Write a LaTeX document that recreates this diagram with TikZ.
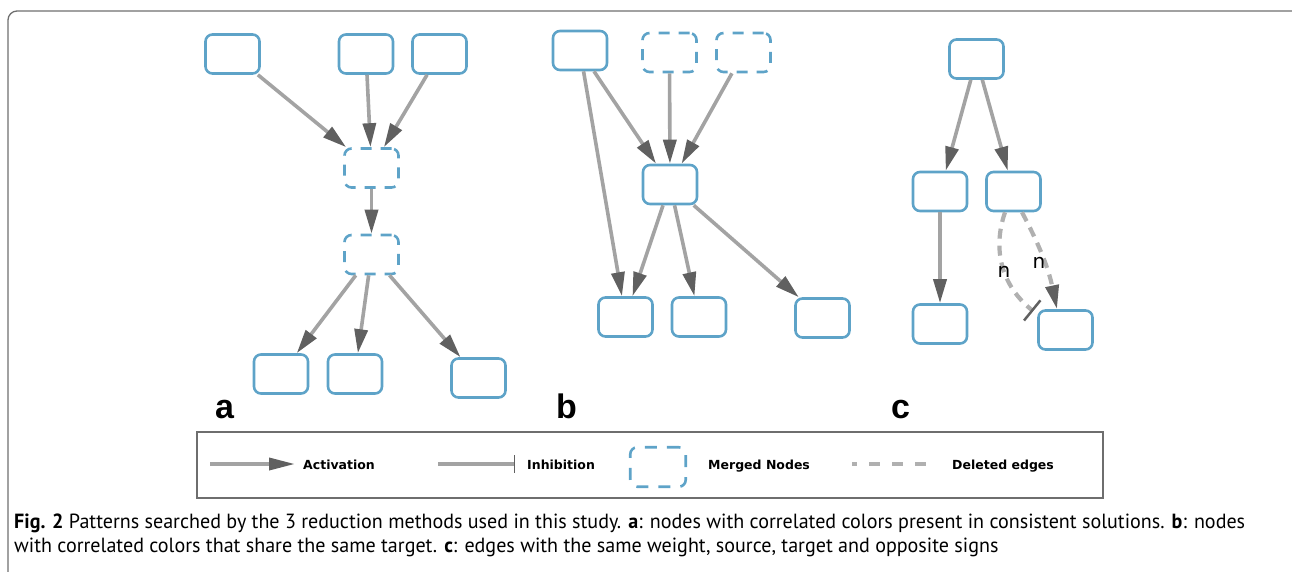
\documentclass[tikz,border=0pt]{standalone}
\usepackage{fontspec}
\usepackage{graphicx}
\setmainfont{PT Sans}
\newfontfamily\legendfont{DejaVu Sans}
\newfontfamily\panelfont{Liberation Sans}
\newfontfamily\nfont{DejaVu Sans}
\usetikzlibrary{arrows.meta,calc}
\definecolor{nodeblue}{RGB}{94,163,200}
\definecolor{shaft}{RGB}{163,163,163}
\definecolor{head}{RGB}{96,96,96}
\definecolor{delgray}{RGB}{176,176,176}
\definecolor{framegray}{RGB}{110,110,110}
\newsavebox{\capboxA}
\newsavebox{\capboxB}
\begin{document}
\sbox{\capboxA}{\fontsize{20.5}{24}\selectfont\textbf{Fig. 2} Patterns searched by the 3 reduction methods used in this study. \textbf{a}: nodes with correlated colors present in consistent solutions. \textbf{b}: nodes}%
\sbox{\capboxB}{\fontsize{20.5}{24}\selectfont with correlated colors that share the same target. \textbf{c}: edges with the same weight, source, target and opposite signs}%
\begin{tikzpicture}[x=1pt,y=1pt,
  box/.style={draw=nodeblue,line width=2.6pt,rounded corners=7pt,minimum width=54pt,minimum height=39pt,inner sep=0pt},
  mbox/.style={box,dash pattern=on 11pt off 9pt},
  act/.style={draw=shaft,line width=3.6pt,-{Triangle[length=24pt,width=13pt,color=head]}},
  del/.style={draw=delgray,line width=4.2pt,dash pattern=on 10pt off 7pt},
  inh/.style={del,-{Bar[width=26pt,line width=2.5pt,color=head]}},
  lbl/.style={font=\panelfont\bfseries\fontsize{34}{34}\selectfont,anchor=base west,inner sep=0pt},
  nlab/.style={font=\nfont\fontsize{20}{20}\selectfont,inner sep=0pt,text=black},
  legtext/.style={font=\legendfont\bfseries\fontsize{12.5}{14}\selectfont,anchor=base west,inner sep=0pt},
  captext/.style={anchor=base west,inner sep=0pt}
]
\useasboundingbox (0,0) rectangle (1292,-571);
\begin{scope}
\clip (0,0) rectangle (1292,-571);
\draw[framegray,line width=1.3pt,rounded corners=9pt] (8,-11) rectangle (1302,-610);
\end{scope}

% panel a
\node[box] (A1) at (232.5,-54) {};
\node[box] (A2) at (366,-54) {};
\node[box] (A3) at (439.5,-54) {};
\node[mbox] (M1) at (371.5,-168) {};
\node[mbox] (M2) at (371.5,-254.5) {};
\node[box] (B1) at (281,-374) {};
\node[box] (B2) at (355,-374) {};
\node[box] (B3) at (478.5,-378) {};
\draw[act] (A1) -- (M1);
\draw[act] (A2) -- (M1);
\draw[act] (A3) -- (M1);
\draw[act] (M1) -- (M2);
\draw[act] (M2) -- (B1);
\draw[act] (M2) -- (B2);
\draw[act] (M2) -- (B3);
\node[lbl] (la) at (215,-418) {a};

% panel b
\node[box] (C1) at (580,-50.5) {};
\node[mbox] (D1) at (669.5,-52.5) {};
\node[mbox] (D2) at (743.5,-52.5) {};
\node[box] (E) at (670,-184.5) {};
\node[box] (F1) at (625.5,-317) {};
\node[box] (F2) at (699,-317) {};
\node[box] (F3) at (822.5,-318) {};
\draw[act] (C1) -- (F1);
\draw[act] (C1) -- (E);
\draw[act] (D1) -- (E);
\draw[act] (D2) -- (E);
\draw[act] (E) -- (F1);
\draw[act] (E) -- (F2);
\draw[act] (E) -- (F3);
\node[lbl] (lb) at (556,-418) {b};

% panel c
\node[box] (G) at (976.5,-59) {};
\node[box] (H1) at (940,-191.5) {};
\node[box] (H2) at (1013.5,-191.5) {};
\node[box] (I1) at (940,-324) {};
\node[box] (I2) at (1065.5,-330) {};
\draw[act] (G) -- (H1);
\draw[act] (G) -- (H2);
\draw[act] (H1) -- (I1);
\draw[inh] ([xshift=-8.5pt]H2.south) to[bend right=35] ([shift={(-4pt,-2pt)}]I2.north west);
\draw[del,-{Triangle[length=24pt,width=13pt,color=head]}] ([xshift=8.5pt]H2.south) to[bend left=8] ([xshift=-8.5pt]I2.north);
\node[nlab] (n1) at (1004,-272) {n};
\node[nlab] (n2) at (1039,-263) {n};
\node[lbl] (lc) at (891,-418) {c};

% legend
\draw[framegray,line width=1.3pt] (197,-432) rectangle (1103,-498);
\coordinate (la1) at (210,-464);
\coordinate (la2) at (295,-464);
\draw[act,-{Triangle[length=26pt,width=12pt,color=head]}] (la1) -- (la2);
\node[legtext] (tact) at (303,-469) {Activation};
\coordinate (li1) at (438,-464);
\coordinate (li2) at (515,-464);
\draw[draw=shaft,line width=3.6pt,-{Bar[width=18pt,line width=1.5pt,color=head]}] (li1) -- (li2);
\node[legtext] (tinh) at (527,-469) {Inhibition};
\node[box,dash pattern=on 12pt off 10pt,minimum width=55.5pt,minimum height=39.5pt] (lm) at (658,-467) {};
\node[legtext] (tmer) at (708,-469) {Merged Nodes};
\coordinate (ld1) at (852,-464);
\coordinate (ld2) at (926,-464);
\draw[del,dash pattern=on 11pt off 12pt,dash phase=6pt] (ld1) -- (ld2);
\node[legtext] (tdel) at (952,-469) {Deleted edges};

% caption
\pgfmathsetmacro{\capf}{1231/\the\wd\capboxA}
\node[captext] (cap1) at (14,-528) {\scalebox{\capf}[1]{\usebox{\capboxA}}};
\node[captext] (cap2) at (14,-552) {\scalebox{\capf}[1]{\usebox{\capboxB}}};
\end{tikzpicture}
\end{document}
